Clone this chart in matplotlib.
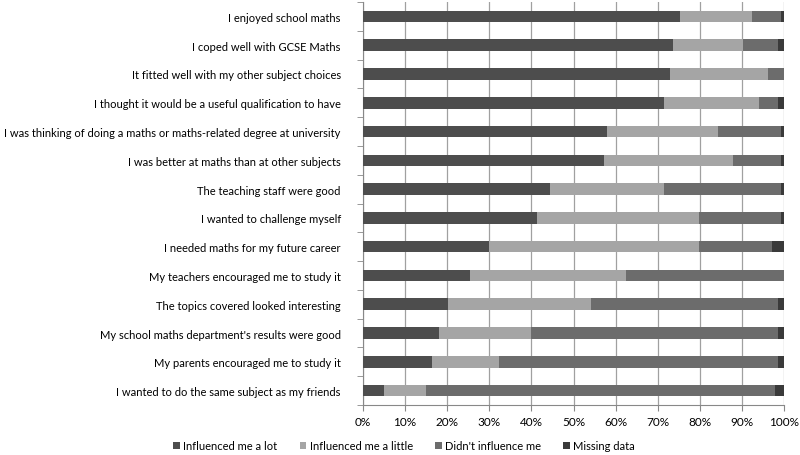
import numpy as np
import matplotlib
matplotlib.use("Agg")
import matplotlib.pyplot as plt

plt.rcParams['font.family'] = ['Lato', 'DejaVu Sans']

# Survey statements (top to bottom)
statements = [
    "I enjoyed school maths",
    "I coped well with GCSE Maths",
    "It fitted well with my other subject choices",
    "I thought it would be a useful qualification to have",
    "I was thinking of doing a maths or maths-related degree at university",
    "I was better at maths than at other subjects",
    "The teaching staff were good",
    "I wanted to challenge myself",
    "I needed maths for my future career",
    "My teachers encouraged me to study it",
    "The topics covered looked interesting",
    "My school maths department's results were good",
    "My parents encouraged me to study it",
    "I wanted to do the same subject as my friends",
]

# Percent of respondents
lot = [75.2, 73.7, 72.9, 71.4, 58.0, 57.2, 44.3, 41.3, 30.0, 25.5, 20.3, 18.1, 16.5, 5.1]
little = [17.3, 16.6, 23.4, 22.6, 26.3, 30.8, 27.1, 38.5, 49.8, 36.9, 33.9, 21.8, 15.8, 9.9]
didnt = [6.9, 8.3, 3.7, 4.6, 15.1, 11.4, 28.0, 19.6, 17.3, 37.6, 44.3, 58.6, 66.3, 82.9]
missing = [0.6, 1.4, 0.0, 1.4, 0.6, 0.6, 0.6, 0.6, 2.9, 0.0, 1.5, 1.5, 1.4, 2.1]

series_names = ["Influenced me a lot", "Influenced me a little",
                "Didn't influence me", "Missing data"]
colors = ["#4d4d4d", "#a5a5a5", "#6c6c6c", "#3a3a3a"]

fig = plt.figure(figsize=(8, 4.56), dpi=100)
ax = fig.add_axes([363 / 800, 50 / 456, 421 / 800, 403 / 456])

y = np.arange(len(statements))[::-1]
left = np.zeros(len(statements))
for vals, name, c in zip([lot, little, didnt, missing], series_names, colors):
    ax.barh(y, vals, left=left, height=0.4, color=c, label=name, zorder=3)
    left += np.array(vals)

ax.set_xlim(0, 100)
ax.set_ylim(-0.5, len(statements) - 0.5)
ax.set_xticks(np.arange(0, 101, 10))
ax.set_xticklabels([f"{v}%" for v in range(0, 101, 10)], fontsize=8.5)
ax.set_yticks(y)
ax.set_yticklabels(statements, fontsize=8)
ax.set_yticks(np.arange(-0.5, len(statements), 1), minor=True)
ax.tick_params(axis='y', which='major', length=0, pad=16)
ax.tick_params(axis='y', which='minor', length=4, color='#888888')
ax.tick_params(axis='x', length=4, color='#888888', pad=4)

ax.grid(axis='x', color='#a0a0a0', linewidth=0.9, zorder=0)
for s in ['top', 'right']:
    ax.spines[s].set_visible(False)
for s in ['left', 'bottom']:
    ax.spines[s].set_color('#888888')

fig.legend(loc='center', bbox_to_anchor=(0.505, 447 / 456 * 0 + 9 / 456), ncol=4,
           frameon=False, fontsize=8, handlelength=0.6, handleheight=0.6,
           handletextpad=0.3, columnspacing=2.0)

fig.savefig("out.png", dpi=100)
